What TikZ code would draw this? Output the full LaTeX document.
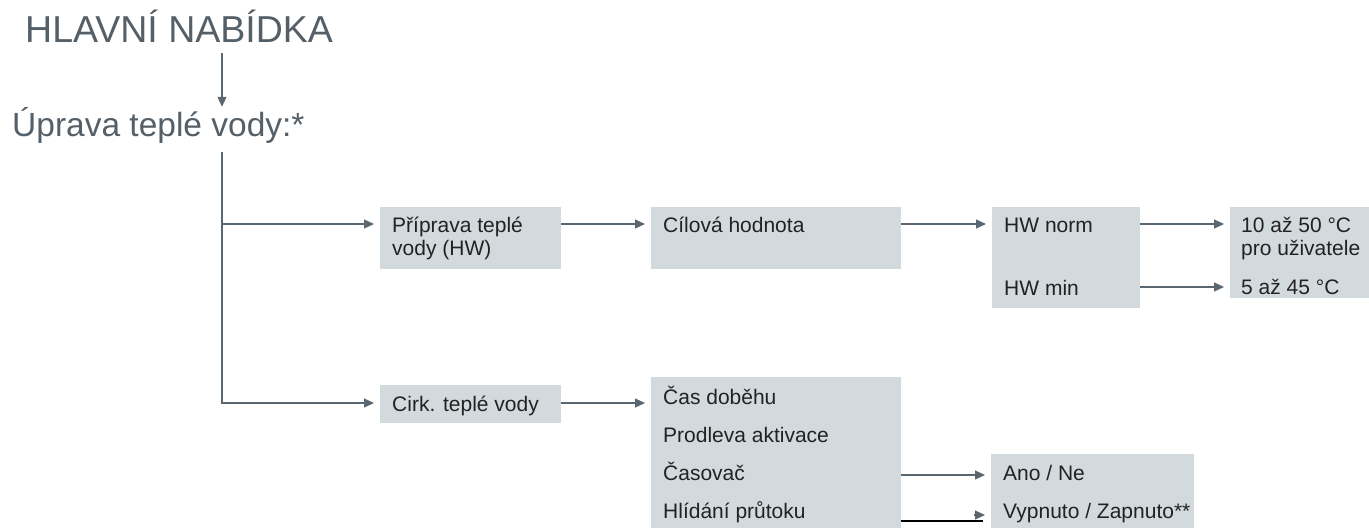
\documentclass[tikz,border=0pt]{standalone}
\usepackage{fontspec}
\setmainfont{Liberation Sans}
\usetikzlibrary{arrows.meta}

\definecolor{linegray}{HTML}{5B6770}
\definecolor{headgray}{HTML}{545F68}
\definecolor{boxgray}{HTML}{D3DADD}
\definecolor{textdark}{HTML}{222222}

\begin{document}
\begin{tikzpicture}[x=1pt,y=1pt,yscale=-1,
  link/.style={draw=linegray, line width=1.2pt, -{Triangle[length=10pt,width=9pt]}, shorten >=6pt},
  menubox/.style={fill=boxgray, inner sep=0, anchor=north west},
  boxtext/.style={anchor=base west, inner sep=0, text=textdark, font=\fontsize{21}{23}\selectfont, align=left},
  headtext/.style={anchor=base west, inner sep=0, text=headgray}]
\useasboundingbox (0,0) rectangle (1369,528);

% headings
\node[headtext, font=\fontsize{37.5}{40}\selectfont] (title) at (25,42) {HLAVNÍ NABÍDKA};
\node[headtext, font=\fontsize{33.5}{38}\selectfont] (upr) at (12,136) {Úprava teplé vody:*};

% rows and spine
\coordinate (sp) at (222,0);
\coordinate (r1) at (0,224);
\coordinate (r2) at (0,287);
\coordinate (r3) at (0,403);
\coordinate (r4) at (0,475);
\coordinate (r5) at (0,515);
\coordinate (r5b) at (0,521);

% boxes
\node[menubox, minimum width=181, minimum height=62] (prep) at (380,207) {};
\node[menubox, minimum width=250, minimum height=62] (cil) at (651,207) {};
\node[menubox, minimum width=148, minimum height=101] (hw) at (992,207) {};
\node[menubox, minimum width=139, minimum height=91] (rng) at (1230,207) {};
\node[menubox, minimum width=181, minimum height=38] (cirk) at (380,385) {};
\node[menubox, minimum width=250, minimum height=151] (cas) at (651,377) {};
\node[menubox, minimum width=203, minimum height=74] (ano) at (991,454) {};

% box texts (base = last line)
\node[boxtext] (prepT) at (392,255) {Příprava teplé\\vody (HW)};
\node[boxtext] (cilT) at (663,232) {Cílová hodnota};
\node[boxtext] (hwnT) at (1004,232) {HW norm};
\node[boxtext] (hwmT) at (1004,295) {HW min};
\node[boxtext] (rngT) at (1241,255) {10 až 50 °C\\pro uživatele};
\node[boxtext] (rngmT) at (1241,294) {5 až 45 °C};
\node[boxtext] (cirkT) at (392,411) {Cirk. teplé vody};
\node[boxtext] (dobT) at (663,404) {Čas doběhu};
\node[boxtext] (prodT) at (663,442) {Prodleva aktivace};
\node[boxtext] (casovT) at (663,480) {Časovač};
\node[boxtext] (hlidT) at (663,518) {Hlídání průtoku};
\node[boxtext] (anoT) at (1003,480) {Ano / Ne};
\node[boxtext] (vypT) at (1003,518) {Vypnuto / Zapnuto**};

% connectors
\draw[link, shorten <=11pt, shorten >=0pt] (title.south -| sp) -- (upr.north -| sp);
\draw[link, shorten <=9pt] (upr.south -| sp) -- (sp |- r3) -- (cirk.west |- r3);
\draw[link] (sp |- r1) -- (prep.west |- r1);
\draw[link] (prep.east |- r1) -- (cil.west |- r1);
\draw[link] (cil.east |- r1) -- (hw.west |- r1);
\draw[link] (hw.east |- r1) -- (rng.west |- r1);
\draw[link] (hw.east |- r2) -- (rng.west |- r2);
\draw[link] (cirk.east |- r3) -- (cas.west |- r3);
\draw[link] (cas.east |- r4) -- (ano.west |- r4);
\draw[black, line width=2pt] (cas.east |- r5b) -- ([xshift=-8pt]ano.west |- r5b);
\draw[link] ([xshift=-17pt]ano.west |- r5) -- (ano.west |- r5);

\end{tikzpicture}
\end{document}
